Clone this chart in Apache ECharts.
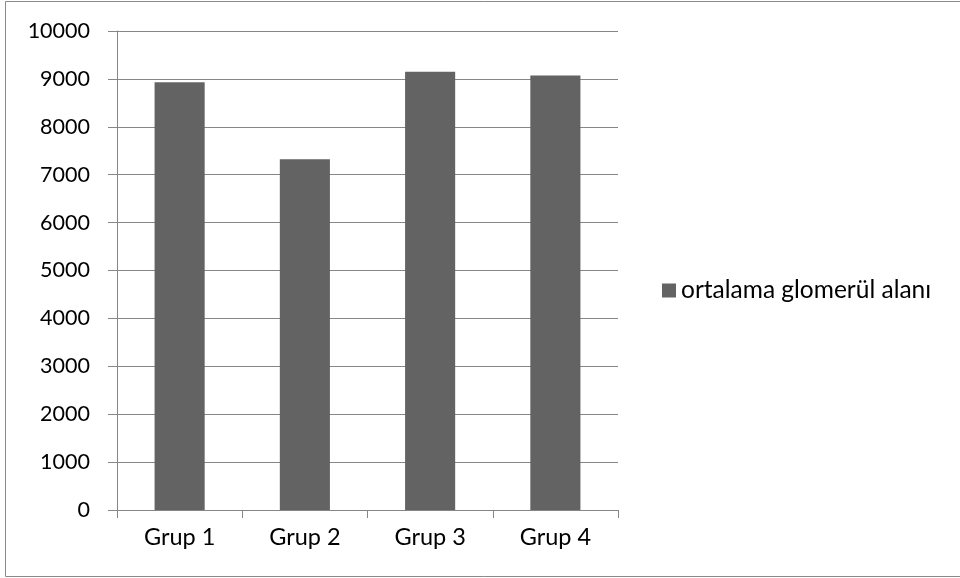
<!DOCTYPE html>
<html>
<head>
<meta charset="utf-8">
<script src="https://cdn.jsdelivr.net/npm/echarts@6/dist/echarts.min.js"></script>
<style>
  html, body { margin: 0; padding: 0; background: #fff; }
  #chart { width: 960px; height: 578px; }
</style>
</head>
<body>
<div id="chart"></div>
<script>
// Mean glomerular area per group
const categories = ['Grup 1', 'Grup 2', 'Grup 3', 'Grup 4'];
const seriesName = 'ortalama glomerül alanı';
const values = [8930, 7320, 9150, 9070];
const yTicks = { min: 0, max: 10000, interval: 1000 };

const FONT = 'Lato';
const chart = echarts.init(document.getElementById('chart'));
chart.setOption({
  animation: false,
  backgroundColor: '#ffffff',
  textStyle: { fontFamily: FONT },
  graphic: [{
    type: 'rect',
    shape: { x: 5.5, y: 1.5, width: 960, height: 575 },
    style: { fill: 'none', stroke: '#8a8a8a', lineWidth: 1 },
    silent: true
  }],
  grid: { left: 117, right: 342, top: 31, bottom: 68 },
  legend: {
    data: [seriesName],
    left: 657,
    top: 273,
    icon: 'rect',
    itemWidth: 14,
    itemHeight: 14,
    itemGap: 6,
    textStyle: { fontFamily: FONT, fontSize: 24.5, color: '#000' }
  },
  xAxis: {
    type: 'category',
    data: categories,
    boundaryGap: true,
    axisLine: { lineStyle: { color: '#868686', width: 1 } },
    axisTick: { show: true, length: 8, alignWithLabel: false, lineStyle: { color: '#868686' } },
    axisLabel: { fontFamily: FONT, fontSize: 23.5, color: '#000', margin: 15 }
  },
  yAxis: {
    type: 'value',
    min: yTicks.min,
    max: yTicks.max,
    interval: yTicks.interval,
    axisLine: { show: true, lineStyle: { color: '#868686', width: 1 } },
    axisTick: { show: true, length: 9, lineStyle: { color: '#868686' } },
    axisLabel: {
      fontFamily: FONT, fontSize: 21.5, color: '#000', margin: 27,
      formatter: v => String(v)
    },
    splitLine: { show: true, lineStyle: { color: '#868686', width: 1 } }
  },
  series: [{
    name: seriesName,
    type: 'bar',
    data: values,
    barWidth: '40%',
    itemStyle: { color: '#636363' }
  }]
});
</script>
</body>
</html>
